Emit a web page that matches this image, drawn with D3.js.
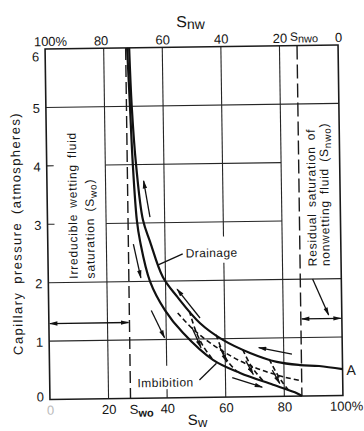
<!DOCTYPE html>
<html lang="en">
<head>
<meta charset="utf-8">
<title>Capillary pressure hysteresis</title>
<script src="https://d3js.org/d3.v7.min.js"></script>
<style>
  body { margin: 0; background: #fff; }
  svg { display: block; font-family: "Liberation Sans", Arial, sans-serif; color: #161616; }
  .grid { stroke: #262626; stroke-width: 1.1; fill: none; }
  .frame { stroke: #1a1a1a; stroke-width: 1.6; fill: none; }
  .main { stroke: #111; stroke-width: 2.2; fill: none; }
  .scan { stroke: #111; stroke-width: 1.6; fill: none; stroke-dasharray: 5 3; }
  .limit { stroke: #1a1a1a; stroke-width: 1.4; fill: none; }
  .arrow { stroke: #111; stroke-width: 1.3; fill: none; }
  .lbl { fill: #161616; font-size: 12px; letter-spacing: 0.8px; word-spacing: 2px; }
</style>
</head>
<body>
<svg id="chart" width="364" height="431"></svg>
<script>
// ---- data ----
const swTicks = [0, 20, 40, 60, 80, 100];
const swLabels = ["0", "20", "40", "60", "80", "100%"];
const snwTicks = [100, 80, 60, 40, 20, 0];
const snwLabels = ["100%", "80", "60", "40", "20", "0"];
const pTicks = [0, 1, 2, 3, 4, 5, 6];

const swo = 27.5;   // irreducible wetting saturation, %
const snwo = 14;    // residual nonwetting saturation, %

// [Sw %, Pc atm]
const drainage = [[28.7, 6], [29.3, 5], [30.5, 4], [32.6, 3.05], [34.9, 2.68], [39.1, 2.07],
  [43.9, 1.73], [51.6, 1.27], [59.3, 0.98], [68.5, 0.75], [77.6, 0.59], [85.5, 0.53],
  [92, 0.51], [100, 0.45]];
const imbibition = [[28.0, 6], [28.7, 5], [29.4, 4], [30.5, 3.05], [31.5, 2.69], [34.7, 2.0],
  [39.7, 1.5], [45.7, 1.11], [55.8, 0.64], [65, 0.41], [76.2, 0.2], [84.3, 0.05], [86, 0]];
const scanning = [
  [[48, 1.48], [50, 1.15], [52.5, 0.88], [56, 0.63]],
  [[57, 1.07], [59, 0.8], [61, 0.6], [64, 0.43]],
  [[66, 0.81], [68, 0.6], [70, 0.44], [73, 0.26]],
  [[75, 0.64], [77, 0.44], [79, 0.27], [81.5, 0.1]],
  [[44, 1.45], [50, 1.13], [60, 0.76], [70, 0.5], [80, 0.33], [86, 0.26]]
];
// direction arrows, tail -> head
const arrows = [
  [[35, 3.1], [33, 3.72]],
  [[51.6, 1.36], [43.9, 1.86]],
  [[82.8, 0.72], [71.5, 0.84]],
  [[29.2, 2.64], [31.6, 2.06]],
  [[35, 1.5], [39.4, 1.03]],
  [[62.3, 0.33], [72.5, 0.16]],
  [[48.8, 1.2], [51.8, 0.85]],
  [[58, 0.88], [60.5, 0.6]],
  [[67, 0.62], [69.5, 0.38]],
  [[76, 0.45], [78.5, 0.22]]
];
// grid segments: vertical [Sw, p0, p1], horizontal [p, sw0, sw1]
const vGrid = [[20, 0, 6], [40, 0.55, 6], [40, 0, 0.15], [60, 2.3, 0], [60, 2.75, 6], [80, 0, 6]];
const hGrid = [[5, 0, 100], [4, 20, 80], [3, 20, 80], [2, 0, 100], [1, 0, 100]];
const leftTicks = [4, 3];

// ---- scales ----
const x = d3.scaleLinear().domain([0, 100]).range([47.5, 340.5]);
const xTop = d3.scaleLinear().domain([100, 0]).range([47.5, 340.5]);
const y = d3.scaleLinear().domain([0, 6]).range([397.5, 47]);

const svg = d3.select("#chart");
const defs = svg.append("defs");
defs.append("marker").attr("id", "head")
  .attr("viewBox", "0 0 10 6").attr("refX", 9).attr("refY", 3)
  .attr("markerWidth", 9).attr("markerHeight", 5).attr("markerUnits", "userSpaceOnUse")
  .attr("orient", "auto-start-reverse")
  .append("path").attr("d", "M0,0.4L10,3L0,5.6z").attr("fill", "#111");

// the scan is slightly rotated
const g = svg.append("g").attr("transform", "rotate(-0.8,194,222)");

// grid
g.selectAll(".vg").data(vGrid).enter().append("line").attr("class", "grid")
  .attr("x1", d => x(d[0])).attr("x2", d => x(d[0]))
  .attr("y1", d => y(d[1])).attr("y2", d => y(d[2]));
g.selectAll(".hg").data(hGrid).enter().append("line").attr("class", "grid")
  .attr("y1", d => y(d[0])).attr("y2", d => y(d[0]))
  .attr("x1", d => x(d[1])).attr("x2", d => x(d[2]));
g.selectAll(".lt").data(leftTicks).enter().append("line").attr("class", "grid")
  .attr("y1", d => y(d)).attr("y2", d => y(d))
  .attr("x1", x(0)).attr("x2", x(0) + 7);

g.append("rect").attr("class", "frame")
  .attr("x", x(0)).attr("y", y(6)).attr("width", x(100) - x(0)).attr("height", y(0) - y(6));

// limit lines
g.append("line").attr("class", "limit").attr("stroke-dasharray", "12 5")
  .attr("x1", x(swo)).attr("x2", x(swo)).attr("y1", y(6)).attr("y2", y(0));
g.append("line").attr("class", "limit").attr("stroke-dasharray", "14 5")
  .attr("x1", x(100 - snwo)).attr("x2", x(100 - snwo)).attr("y1", y(6)).attr("y2", y(0));

// curves
const line = d3.line().x(d => x(d[0])).y(d => y(d[1])).curve(d3.curveCatmullRom.alpha(0.5));
g.selectAll(".scanpath").data(scanning).enter().append("path").attr("class", "scan").attr("d", line);
g.append("path").attr("class", "main").attr("d", line(drainage));
g.append("path").attr("class", "main").attr("d", line(imbibition));

g.selectAll(".arr").data(arrows).enter().append("line").attr("class", "arrow")
  .attr("x1", d => x(d[0][0])).attr("y1", d => y(d[0][1]))
  .attr("x2", d => x(d[1][0])).attr("y2", d => y(d[1][1]))
  .attr("marker-end", "url(#head)");

// dimension arrows for Swo and Snwo
g.append("line").attr("class", "arrow")
  .attr("x1", x(0) + 1).attr("x2", x(swo) - 1).attr("y1", y(1.3)).attr("y2", y(1.3))
  .attr("marker-start", "url(#head)").attr("marker-end", "url(#head)");
g.append("line").attr("class", "arrow")
  .attr("x1", x(100 - snwo) + 1).attr("x2", x(100) - 1).attr("y1", y(1.32)).attr("y2", y(1.32))
  .attr("marker-start", "url(#head)").attr("marker-end", "url(#head)");
g.append("line").attr("class", "arrow")
  .attr("x1", x(90.2)).attr("y1", y(2.0)).attr("x2", x(95.5)).attr("y2", y(1.38))
  .attr("marker-end", "url(#head)");

// axes
function styleAxis(a) {
  a.select(".domain").remove();
  a.attr("font-family", null).attr("font-size", null);
  a.selectAll("text").attr("fill", "#161616").style("font-size", "13px");
}
g.append("g").attr("transform", `translate(0,${y(6)})`)
  .call(d3.axisTop(xTop).tickValues(snwTicks).tickSize(0).tickPadding(3)
    .tickFormat((d, i) => snwLabels[i]))
  .call(styleAxis)
  .call(a => a.selectAll("text").attr("dx", d => d === 100 ? 5 : (d === 80 ? -3 : 0)));
g.append("g").attr("transform", `translate(0,${y(0)})`)
  .call(d3.axisBottom(x).tickValues(swTicks).tickSize(0).tickPadding(6)
    .tickFormat((d, i) => swLabels[i]))
  .call(styleAxis)
  .call(a => a.selectAll("text")
    .attr("fill", d => d === 0 ? "#bbb" : "#161616")
    .attr("dx", d => d === 100 ? 3 : 0));
g.append("g").attr("transform", `translate(${x(0)},0)`)
  .call(d3.axisLeft(y).tickValues(pTicks).tickSize(0).tickPadding(6).tickFormat(d3.format("d")))
  .call(styleAxis)
  .call(a => a.selectAll("text").attr("dy", d => d === 6 ? "0.9em" : (d === 0 ? "0.1em" : "0.38em")));

// axis titles
const tTop = g.append("text").attr("x", 179).attr("y", 27).attr("fill", "#161616").style("font-size", "16px").text("S");
tTop.append("tspan").attr("dy", 2).style("font-size", "14px").text("nw");
const tBot = g.append("text").attr("x", 185).attr("y", 425).attr("fill", "#161616").style("font-size", "15px").text("S");
tBot.append("tspan").attr("dy", 2).style("font-size", "13px").text("w");
g.append("text").attr("transform", "translate(21,231) rotate(-90)").attr("text-anchor", "middle")
  .attr("fill", "#161616").style("font-size", "13px").style("letter-spacing", "1.4px").style("word-spacing", "3px")
  .text("Capillary pressure (atmospheres)");

// Swo / Snwo axis markers
const sSwo = g.append("text").attr("x", x(swo) - 1).attr("y", 413).attr("fill", "#161616").style("font-size", "13px").text("S");
sSwo.append("tspan").attr("dy", 3).style("font-size", "11px").style("font-weight", "bold").text("wo");
const sSnwo = g.append("text").attr("x", x(100 - snwo) - 7).attr("y", 42).attr("fill", "#161616").style("font-size", "12px").text("S");
sSnwo.append("tspan").attr("dy", 2).style("font-size", "11px").text("nwo");

// column notes
function note(tx, ty, parts) {
  const t = g.append("text").attr("class", "lbl").attr("transform", `translate(${tx},${ty}) rotate(-90)`);
  parts.forEach(p => {
    const s = t.append("tspan").text(p[0]);
    if (p[1]) s.attr("dy", p[1]);
    if (p[2]) s.style("font-size", p[2]);
  });
}
note(77, 277, [["Irreducible wetting fluid"]]);
note(94, 277, [["saturation (S"], ["wo", 3, "10px"], [")", -3]]);
note(316, 268, [["Residual saturation of"]]);
note(329, 268, [["nonwetting fluid (S"], ["nwo", 3, "10px"], [")", -3]]);

// curve labels
g.append("text").attr("class", "lbl").attr("x", x(47)).attr("y", y(2.4)).style("letter-spacing", "0.4px").text("Drainage");
g.append("line").attr("class", "arrow").attr("x1", x(46)).attr("y1", y(2.46)).attr("x2", x(37.6)).attr("y2", y(2.28));
g.append("text").attr("class", "lbl").attr("x", x(29.9)).attr("y", y(0.19)).style("letter-spacing", "0.5px").text("Imbibition");
g.append("line").attr("class", "arrow").attr("x1", x(51.1)).attr("y1", y(0.3)).attr("x2", x(57)).attr("y2", y(0.58));
g.append("text").attr("x", x(101.3)).attr("y", y(0.35)).attr("fill", "#161616").style("font-size", "14px").text("A");
</script>
</body>
</html>
